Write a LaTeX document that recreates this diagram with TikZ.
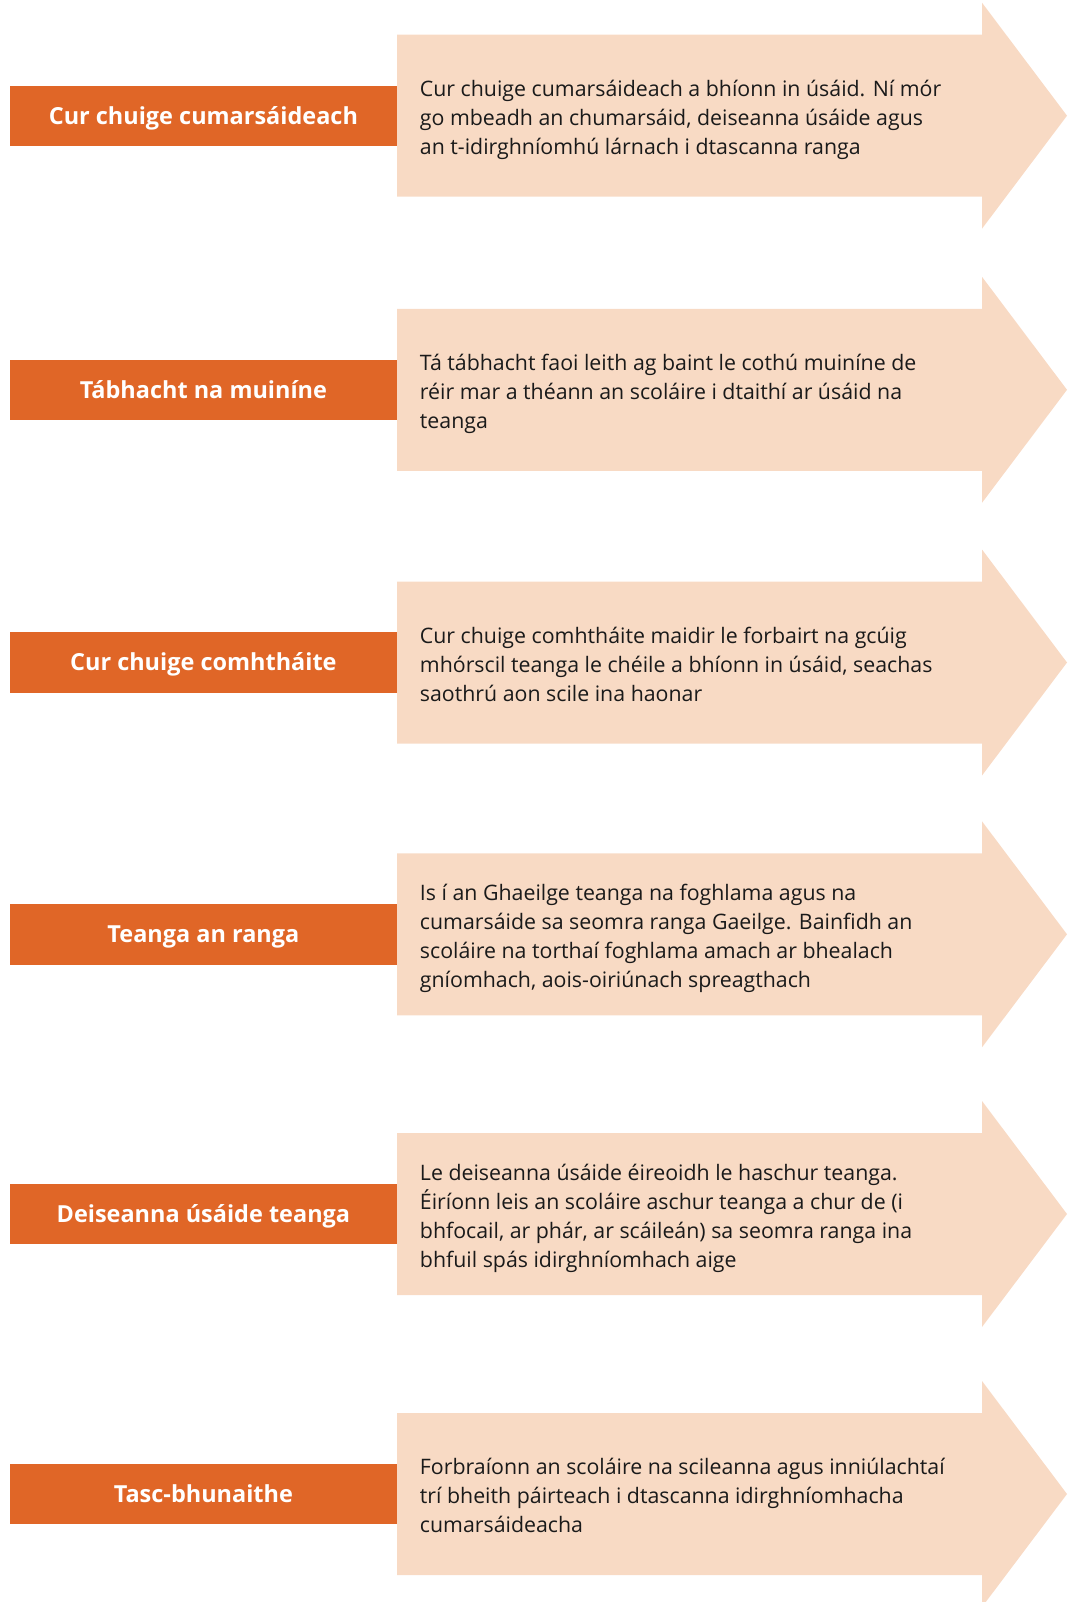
\documentclass[tikz,border=0pt]{standalone}
\usepackage{fontspec}
\setmainfont{Open Sans}
\usetikzlibrary{positioning}
\definecolor{rust}{RGB}{224,102,39}
\definecolor{peach}{RGB}{248,218,196}
\definecolor{ink}{RGB}{26,26,26}

\begin{document}
\begin{tikzpicture}[x=0.75pt,y=0.75pt,yscale=-1,xscale=1,
  tag/.style={fill=rust, text=white, font=\fontsize{17.6}{20}\selectfont\bfseries,
    minimum width=290pt, minimum height=45.4pt, inner sep=0pt, anchor=east,
    text height=12.6pt, text depth=0pt},
  blurb/.style={text=ink, font=\fontsize{16}{21.75}\selectfont, align=left, inner sep=0pt},
  pointer/.style={fill=peach}]
\useasboundingbox (0,0) rectangle (1067,1602);

%Shape: Arrow 1
\fill[pointer] (397,34.7) -- (982,34.7) -- (982,2.7) -- (1067,115.7) -- (982,228.7) -- (982,196.7) -- (397,196.7) -- cycle;
%Shape: Arrow 2
\fill[pointer] (397,308.8) -- (982,308.8) -- (982,276.8) -- (1067,389.8) -- (982,502.8) -- (982,470.8) -- (397,470.8) -- cycle;
%Shape: Arrow 3
\fill[pointer] (397,581.5) -- (982,581.5) -- (982,549.5) -- (1067,662.5) -- (982,775.5) -- (982,743.5) -- (397,743.5) -- cycle;
%Shape: Arrow 4
\fill[pointer] (397,853.3) -- (982,853.3) -- (982,821.3) -- (1067,934.3) -- (982,1047.3) -- (982,1015.3) -- (397,1015.3) -- cycle;
%Shape: Arrow 5
\fill[pointer] (397,1133) -- (982,1133) -- (982,1101) -- (1067,1214) -- (982,1327) -- (982,1295) -- (397,1295) -- cycle;
%Shape: Arrow 6
\fill[pointer] (397,1413) -- (982,1413) -- (982,1381) -- (1067,1494) -- (982,1607) -- (982,1575) -- (397,1575) -- cycle;

% Text Node
\node[tag] (tag1) at (397,116) {Cur chuige cumarsáideach};
\node[blurb, right=17pt of tag1, yshift=-3pt] (note1) {Cur chuige cumarsáideach a bhíonn in úsáid. Ní mór\\go mbeadh an chumarsáid, deiseanna úsáide agus\\an t-idirghníomhú lárnach i dtascanna ranga};
% Text Node
\node[tag] (tag2) at (397,390) {Tábhacht na muiníne};
\node[blurb, right=17pt of tag2, yshift=-3pt] (note2) {Tá tábhacht faoi leith ag baint le cothú muiníne de\\réir mar a théann an scoláire i dtaithí ar úsáid na\\teanga};
% Text Node
\node[tag] (tag3) at (397,662.5) {Cur chuige comhtháite};
\node[blurb, right=17pt of tag3, yshift=-1.5pt] (note3) {Cur chuige comhtháite maidir le forbairt na gcúig\\mhórscil teanga le chéile a bhíonn in úsáid, seachas\\saothrú aon scile ina haonar};
% Text Node
\node[tag] (tag4) at (397,934.3) {Teanga an ranga};
\node[blurb, right=17pt of tag4, yshift=-3pt] (note4) {Is í an Ghaeilge teanga na foghlama agus na\\cumarsáide sa seomra ranga Gaeilge. Bainfidh an\\scoláire na torthaí foghlama amach ar bhealach\\gníomhach, aois-oiriúnach spreagthach};
% Text Node
\node[tag] (tag5) at (397,1214) {Deiseanna úsáide teanga};
\node[blurb, right=17pt of tag5, yshift=-3pt] (note5) {Le deiseanna úsáide éireoidh le haschur teanga.\\Éiríonn leis an scoláire aschur teanga a chur de (i\\bhfocail, ar phár, ar scáileán) sa seomra ranga ina\\bhfuil spás idirghníomhach aige};
% Text Node
\node[tag] (tag6) at (397,1494) {Tasc-bhunaithe};
\node[blurb, right=17pt of tag6, yshift=-0.75pt] (note6) {Forbraíonn an scoláire na scileanna agus inniúlachtaí\\trí bheith páirteach i dtascanna idirghníomhacha\\cumarsáideacha};

\end{tikzpicture}
\end{document}
